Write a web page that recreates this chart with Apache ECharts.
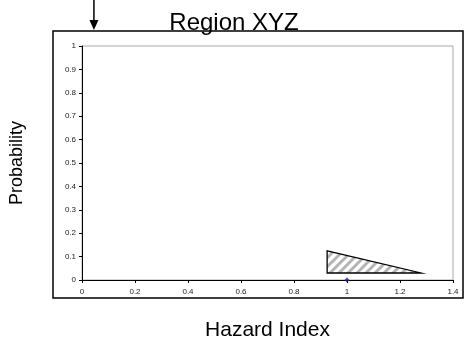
<!DOCTYPE html>
<html><head><meta charset="utf-8">
<script src="https://cdn.jsdelivr.net/npm/echarts@6/dist/echarts.min.js"></script>
<style>html,body{margin:0;padding:0;background:#fff}#c{width:468px;height:352px}</style>
</head><body><div id="c"></div>
<script>
var titleText = 'Region XYZ';
var xName = 'Hazard Index';
var yName = 'Probability';
var xTicks = [0, 0.2, 0.4, 0.6, 0.8, 1, 1.2, 1.4];
var yTicks = [0, 0.1, 0.2, 0.3, 0.4, 0.5, 0.6, 0.7, 0.8, 0.9, 1];
var triangleX = [0.925, 0.925, 1.28];
var triangleY = [0.03, 0.125, 0.03];
var pointX = [1];
var pointY = [0];
var arrowX = 0.045;

var FONT = 'Liberation Sans, Arial, sans-serif';

function hatch() {
  var s = 9;
  var c = document.createElement('canvas');
  c.width = s; c.height = s;
  var g = c.getContext('2d');
  g.fillStyle = '#fff'; g.fillRect(0, 0, s, s);
  g.strokeStyle = '#b4b4b4'; g.lineWidth = 3;
  g.beginPath();
  g.moveTo(-2, s + 2); g.lineTo(s + 2, -2);
  g.moveTo(-2, 2); g.lineTo(2, -2);
  g.moveTo(s - 2, s + 2); g.lineTo(s + 2, s - 2);
  g.stroke();
  return c;
}
var pattern = { image: hatch(), repeat: 'repeat' };

var triData = triangleX.map(function (x, i) { return [x, triangleY[i]]; });
var ptData = pointX.map(function (x, i) { return [x, pointY[i]]; });

var chart = echarts.init(document.getElementById('c'), null, { renderer: 'canvas' });
chart.setOption({
  backgroundColor: '#fff',
  animation: false,
  title: {
    text: titleText, left: 'center', top: 6,
    textStyle: { fontFamily: FONT, fontSize: 24, fontWeight: 'normal', color: '#000' }
  },
  grid: { left: 81, right: 15, top: 46, bottom: 72, show: true, borderColor: '#aaaaaa', borderWidth: 1 },
  xAxis: {
    type: 'value', min: xTicks[0], max: xTicks[xTicks.length - 1], interval: 0.2,
    name: xName, nameLocation: 'middle', nameGap: 40,
    nameTextStyle: { fontFamily: FONT, fontSize: 21, color: '#000' },
    axisLine: { lineStyle: { color: '#000', width: 1 } },
    axisTick: { show: true, length: 3, lineStyle: { color: '#000' } },
    axisLabel: { fontFamily: FONT, fontSize: 8, color: '#222', margin: 8,
      formatter: function (v) { return String(Math.round(v * 10) / 10); } },
    splitLine: { show: false }
  },
  yAxis: {
    type: 'value', min: yTicks[0], max: yTicks[yTicks.length - 1], interval: 0.1,
    name: yName, nameLocation: 'middle', nameGap: 56, nameRotate: 90,
    nameTextStyle: { fontFamily: FONT, fontSize: 18, color: '#000' },
    axisLine: { lineStyle: { color: '#000', width: 1 } },
    axisTick: { show: true, length: 3, lineStyle: { color: '#000' } },
    axisLabel: { fontFamily: FONT, fontSize: 8, color: '#222', margin: 6,
      formatter: function (v) { return String(Math.round(v * 10) / 10); } },
    splitLine: { show: false }
  },
  series: [
    {
      type: 'custom',
      data: [0],
      renderItem: function (params, api) {
        var pts = triData.map(function (d) { return api.coord(d); });
        return {
          type: 'polygon',
          shape: { points: pts },
          style: { fill: pattern, stroke: '#000', lineWidth: 1.3 }
        };
      },
      silent: true
    },
    {
      type: 'scatter', data: ptData, symbol: 'diamond', symbolSize: 5,
      itemStyle: { color: '#1a1a80' }, silent: true
    }
  ]
});

var ax = chart.convertToPixel({ xAxisIndex: 0 }, arrowX);
chart.setOption({
  graphic: [
    { type: 'rect', shape: { x: 53, y: 31, width: 410, height: 267 },
      style: { fill: 'none', stroke: '#000', lineWidth: 1.5 }, silent: true },
    { type: 'line', shape: { x1: ax, y1: 0, x2: ax, y2: 22 },
      style: { stroke: '#000', lineWidth: 1.5 }, silent: true },
    { type: 'polygon', shape: { points: [[ax - 4.5, 20], [ax + 4.5, 20], [ax, 30]] },
      style: { fill: '#000' }, silent: true }
  ]
});
</script></body></html>
